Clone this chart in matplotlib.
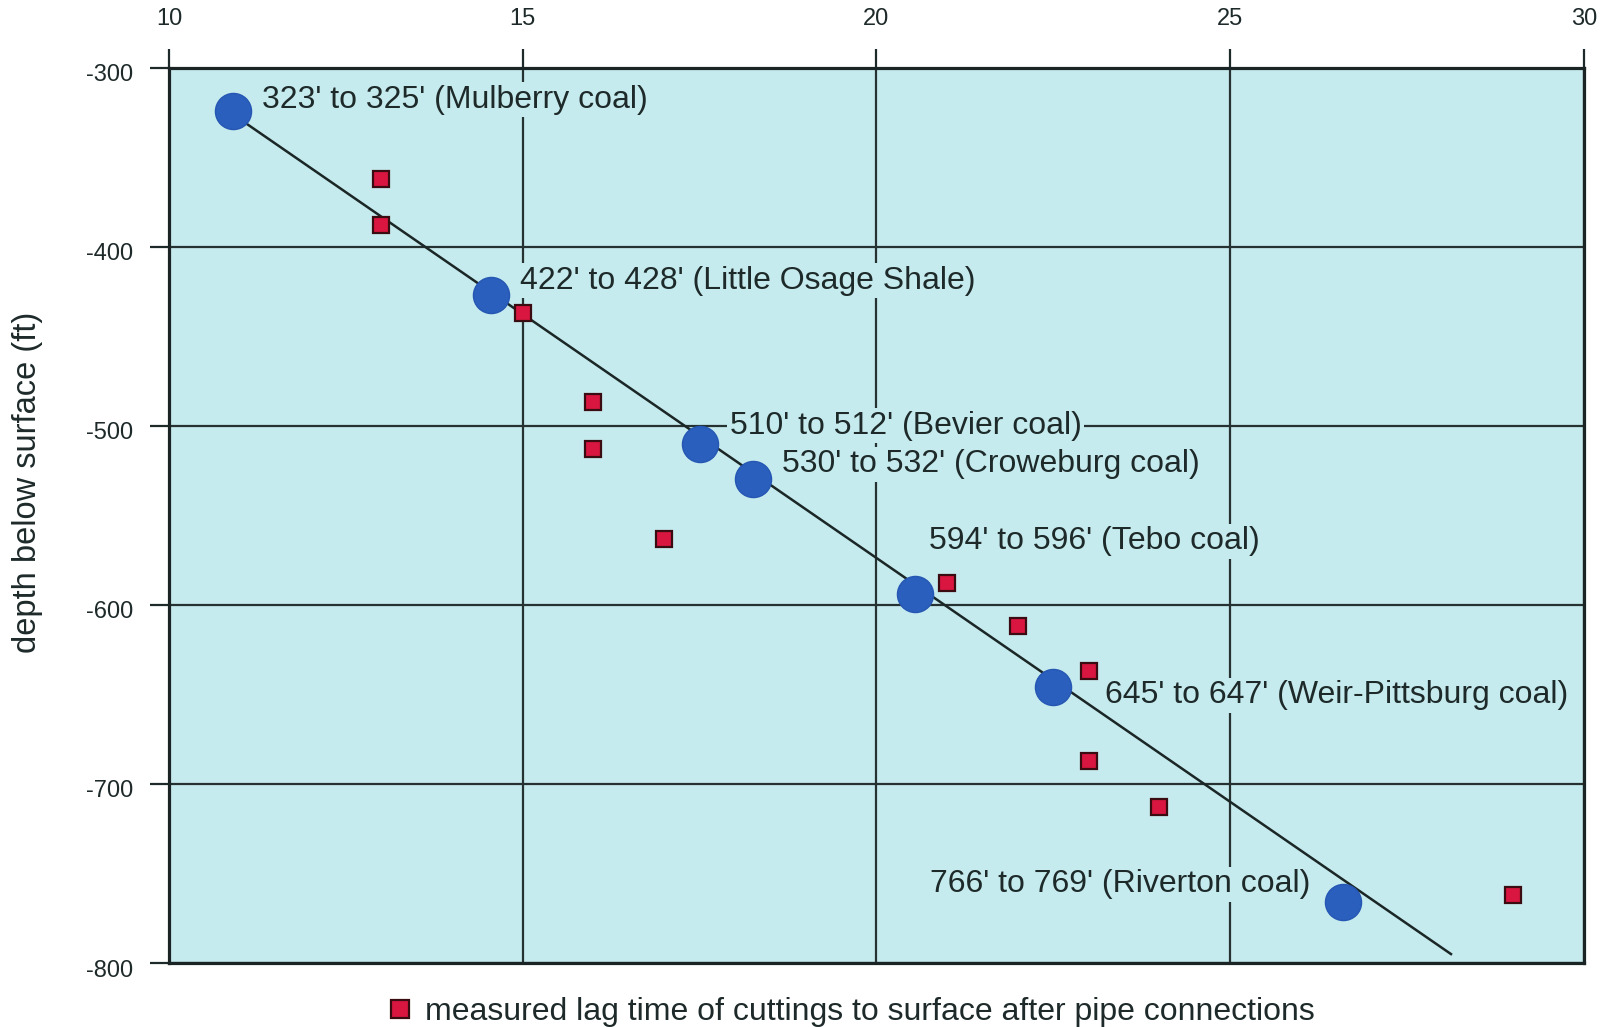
import matplotlib.pyplot as plt
from matplotlib.lines import Line2D
from matplotlib.transforms import ScaledTranslation

plt.rcParams['font.family'] = ['Liberation Sans', 'DejaVu Sans']
plt.rcParams['axes.unicode_minus'] = False

# coal / shale beds: lag time (min) vs depth (ft, negative = below surface)
bed_lag = [10.9, 14.55, 17.5, 18.25, 20.55, 22.5, 26.6]
bed_depth = [-324, -427, -510, -530, -594, -646, -766]
bed_names = ["323' to 325' (Mulberry coal)",
             "422' to 428' (Little Osage Shale)",
             "510' to 512' (Bevier coal)",
             "530' to 532' (Croweburg coal)",
             "594' to 596' (Tebo coal)",
             "645' to 647' (Weir-Pittsburg coal)",
             "766' to 769' (Riverton coal)"]
# where each name sits
name_x = [11.32, 14.96, 17.93, 18.67, 20.74, 23.23, 26.13]
name_y = [-318, -419, -500, -521.5, -564.5, -650.5, -756]
name_ha = ['left', 'left', 'left', 'left', 'left', 'left', 'right']

# cuttings lag measured after pipe connections
cut_lag = [13, 13, 15, 16, 16, 17, 21, 22, 23, 23, 24, 29]
cut_depth = [-362, -388, -437, -487, -513, -563, -588, -612, -637, -687, -713, -762]

# trend line
trend_x = [10.9, 28.12]
trend_y = [-326, -795]

bg = '#c6ebee'
ink = '#1e2a2a'

fig = plt.figure(figsize=(16.06, 10.27), dpi=100)
ax = fig.add_axes([0.1052, 0.0623, 0.8811, 0.8719])
ax.set_facecolor(bg)

ax.set_xlim(10, 30)
ax.set_ylim(-800, -300)
ax.set_xticks([10, 15, 20, 25, 30])
ax.set_yticks([-300, -400, -500, -600, -700, -800])
ax.xaxis.tick_top()
ax.tick_params(axis='x', which='both', top=True, bottom=False, direction='out',
               length=14, width=1.6, pad=13, labelsize=17, colors=ink)
ax.tick_params(axis='y', which='both', left=True, right=False, direction='out',
               length=14, width=1.6, pad=12, labelsize=17, colors=ink)
ax.grid(True, color='#263232', linewidth=1.6, zorder=1)
ax.set_axisbelow(True)
for s in ax.spines.values():
    s.set_linewidth(2.3)
    s.set_color('#1a2424')

ax.set_ylabel('depth below surface (ft)', fontsize=23.5, color=ink)
ax.yaxis.set_label_coords(-0.089, 0.537)

ax.plot(trend_x, trend_y, color='#1b2626', linewidth=1.8, zorder=3)

for name, x, y, ha in zip(bed_names, name_x, name_y, name_ha):
    ax.text(x, y, name, fontsize=23, color=ink, ha=ha, va='center', zorder=2.5,
            bbox=dict(boxstyle='square,pad=0.08', fc=bg, ec='none'))

ax.plot(bed_lag, bed_depth, 'o', markersize=26, color='#2b5fbd',
        markeredgecolor='#2557b3', markeredgewidth=1, zorder=5)
ax.plot(cut_lag, cut_depth, 's', markersize=12, color='#d8163f',
        markeredgecolor='#3a0c12', markeredgewidth=1.6, zorder=4)

handle = Line2D([], [], linestyle='none', marker='s', markersize=13, color='#d8163f',
                markeredgecolor='#3a0c12', markeredgewidth=1.6)
ax.legend([handle], ['measured lag time of cuttings to surface after pipe connections'],
          loc='upper center', bbox_to_anchor=(0.481, -0.006), frameon=False,
          fontsize=23, handletextpad=0.3, labelcolor=ink, handlelength=1.0)

# depth labels sit a little below their ticks
shift = ScaledTranslation(0, -5 / 100, fig.dpi_scale_trans)
for lab in ax.get_yticklabels():
    lab.set_transform(lab.get_transform() + shift)

fig.savefig('out.png', dpi=100, facecolor='white')
